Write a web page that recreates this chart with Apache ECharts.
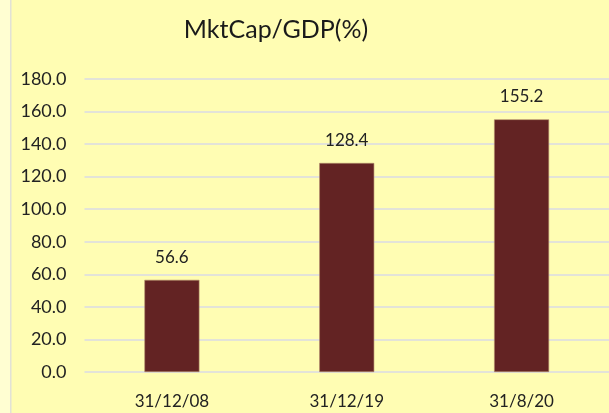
<!DOCTYPE html>
<html>
<head>
<meta charset="utf-8">
<script src="https://cdn.jsdelivr.net/npm/echarts@6/dist/echarts.min.js"></script>
<style>
  html, body { margin: 0; padding: 0; background: #FFFDB3; }
  #chart { width: 609px; height: 413px; }
</style>
</head>
<body>
<div id="chart"></div>
<script>
// Market capitalisation as a share of GDP, by date
const categories = ['31/12/08', '31/12/19', '31/8/20'];
const values = [56.6, 128.4, 155.2];
const yTicks = { min: 0, max: 180, interval: 20 };

const FONT = 'Lato, "Liberation Sans", sans-serif';
const chart = echarts.init(document.getElementById('chart'), null, { renderer: 'canvas' });

chart.setOption({
  backgroundColor: '#FFFDB3',
  animation: false,
  graphic: [
    { type: 'rect', left: 0, top: 0, shape: { x: 0, y: 0, width: 10, height: 413 },
      style: { fill: '#FFFED2' }, silent: true, z: -1 },
    { type: 'rect', left: 10, top: 0, shape: { x: 0, y: 0, width: 1.5, height: 413 },
      style: { fill: '#E2E2D6' }, silent: true, z: -1 }
  ],
  title: {
    text: 'MktCap/GDP(%)',
    left: 271,
    top: 12,
    textAlign: 'center',
    textStyle: { fontFamily: FONT, fontSize: 25, fontWeight: 'normal', color: '#1a1a1a' }
  },
  grid: { left: 84.5, right: -3.5, top: 79, bottom: 41, containLabel: false },
  xAxis: {
    type: 'category',
    data: categories,
    axisLine: { show: false },
    axisTick: { show: false },
    axisLabel: { fontFamily: FONT, fontSize: 17, color: '#222', margin: 21 }
  },
  yAxis: {
    type: 'value',
    min: yTicks.min,
    max: yTicks.max,
    interval: yTicks.interval,
    axisLine: { show: false },
    axisTick: { show: false },
    splitLine: { lineStyle: { color: '#E3E3D8', width: 2 } },
    axisLabel: {
      fontFamily: FONT, fontSize: 18, color: '#222', margin: 18,
      formatter: v => v.toFixed(1)
    }
  },
  series: [{
    type: 'bar',
    data: values,
    barWidth: 55,
    itemStyle: { color: '#632323', borderColor: '#B08A6A', borderWidth: 0.6 },
    label: {
      show: true,
      position: 'top',
      distance: 14,
      fontFamily: FONT,
      fontSize: 17,
      color: '#222',
      formatter: p => p.value.toFixed(1)
    }
  }]
});
</script>
</body>
</html>
